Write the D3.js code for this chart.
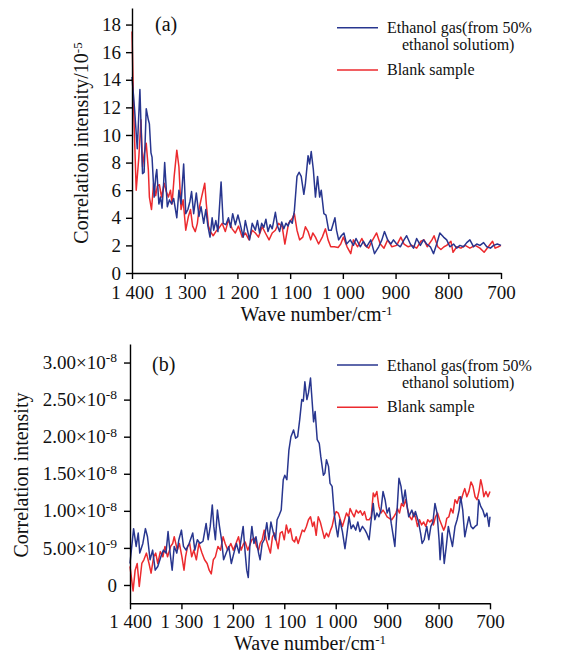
<!DOCTYPE html>
<html>
<head>
<meta charset="utf-8">
<script src="https://cdn.jsdelivr.net/npm/d3@7"></script>
<style>
  body { margin: 0; background: #fff; }
  svg text { font-family: "Liberation Serif", "Times New Roman", serif; fill: #111; }
</style>
</head>
<body>
<svg id="chart" width="570" height="656"></svg>
<script>
// wave number ticks (shared by both panels)
const waveTicks = [1400, 1300, 1200, 1100, 1000, 900, 800, 700];
const waveTickLabels = ['1 400', '1 300', '1 200', '1 100', '1 000', '900', '800', '700'];

// panel (a) y ticks
const aTicks = [0, 2, 4, 6, 8, 10, 12, 14, 16, 18];

// panel (b) y ticks, labels as mantissa + exponent
const bTicks = [0, 5e-9, 1e-8, 1.5e-8, 2e-8, 2.5e-8, 3e-8];
const bTickMant = ['0', '5.00', '1.00', '1.50', '2.00', '2.50', '3.00'];
const bTickExp = ['', '-9', '-8', '-8', '-8', '-8', '-8'];

const legendNames = ['Ethanol gas(from 50%', 'ethanol solutiom)', 'Blank sample'];

// panel (a): [wave number, intensity / 1e-5]
const ethA = [[1400,14.2],[1395,11.8],[1390,9.0],[1385,13.3],[1380,7.2],[1377,7.3],[1373,11.9],[1369,11.1],[1367,10.8],[1364,8.7],[1362,8.4],[1358,5.5],[1355,7.0],[1353,7.5],[1349,5.0],[1346,5.5],[1343,4.7],[1340,6.5],[1338,8.0],[1333,4.8],[1329,5.3],[1325,5.0],[1321,5.4],[1315,4.0],[1311,6.0],[1307,5.0],[1302,7.9],[1298,4.3],[1294,4.6],[1290,5.2],[1287,5.9],[1283,4.3],[1278,5.8],[1273,4.1],[1269,4.8],[1264,3.6],[1260,4.6],[1256,3.4],[1252,2.6],[1248,4.0],[1245,3.1],[1241,3.8],[1237,3.0],[1231,6.6],[1227,3.6],[1222,3.5],[1217,4.0],[1213,3.3],[1209,4.3],[1204,3.5],[1199,4.2],[1195,3.6],[1189,2.6],[1185,3.8],[1181,3.1],[1177,2.4],[1172,3.6],[1166,3.1],[1162,3.8],[1158,2.9],[1154,3.6],[1150,3.3],[1146,3.9],[1142,3.0],[1138,3.5],[1134,3.2],[1128,4.4],[1124,3.4],[1120,3.0],[1116,3.7],[1112,3.2],[1108,3.6],[1104,3.4],[1100,3.8],[1096,3.6],[1092,4.5],[1089,6.0],[1087,7.0],[1083,7.3],[1079,7.0],[1074,5.7],[1071,6.5],[1066,8.5],[1063,7.9],[1060,8.8],[1056,7.5],[1052,5.5],[1048,7.0],[1044,5.5],[1041,6.0],[1036,4.3],[1032,4.2],[1027,3.1],[1022,3.1],[1015,4.0],[1012,3.1],[1008,2.4],[1003,2.7],[998,2.9],[993,2.1],[986,2.4],[980,2.0],[975,2.5],[967,1.9],[961,2.3],[955,1.9],[947,2.4],[940,1.4],[932,1.9],[926,2.4],[921,3.0],[915,2.4],[909,2.1],[904,2.4],[898,2.1],[891,1.9],[884,2.4],[879,2.7],[872,2.1],[866,1.8],[860,2.5],[853,2.0],[847,2.4],[841,2.1],[834,1.9],[828,1.4],[822,2.1],[816,2.9],[809,2.6],[803,2.4],[797,1.9],[790,2.1],[784,1.8],[778,2.0],[771,1.9],[765,2.2],[759,2.4],[752,1.9],[746,2.1],[740,2.0],[733,2.2],[727,1.9],[720,1.8],[714,2.0],[707,2.1],[700,2.0]];

const blankA = [[1400,17.5],[1397,12.0],[1392,6.0],[1387,8.4],[1383,11.1],[1380,7.7],[1377,8.6],[1373,9.4],[1369,7.5],[1367,5.5],[1363,4.6],[1359,6.5],[1355,5.6],[1352,6.3],[1348,6.4],[1344,5.5],[1339,6.5],[1335,5.9],[1331,5.5],[1327,6.0],[1324,5.0],[1320,7.0],[1315,8.9],[1311,7.7],[1307,4.6],[1303,5.3],[1298,3.1],[1293,4.1],[1289,4.6],[1285,3.4],[1280,3.0],[1276,3.6],[1273,4.6],[1268,5.5],[1262,6.5],[1259,5.0],[1255,3.4],[1251,3.0],[1246,2.7],[1241,3.0],[1236,3.2],[1229,3.6],[1223,3.0],[1217,3.85],[1210,3.2],[1204,2.9],[1198,3.4],[1191,2.6],[1185,2.9],[1178,2.4],[1172,3.1],[1166,2.9],[1160,2.6],[1153,3.35],[1147,2.9],[1140,2.4],[1134,2.9],[1128,3.1],[1122,3.6],[1115,3.35],[1110,2.1],[1103,3.6],[1096,3.95],[1092,4.3],[1087,3.1],[1082,2.4],[1076,2.6],[1071,3.35],[1066,3.0],[1061,2.4],[1057,2.9],[1052,2.6],[1046,2.1],[1039,2.6],[1033,3.2],[1028,2.4],[1023,1.9],[1016,1.9],[1009,1.85],[1004,2.1],[999,2.6],[992,1.9],[985,1.4],[980,2.4],[972,1.9],[964,2.5],[958,2.0],[951,1.8],[945,2.3],[936,2.9],[929,2.1],[922,1.8],[915,2.4],[907,1.9],[898,2.0],[890,2.6],[884,2.1],[876,1.9],[869,2.0],[860,1.8],[852,2.3],[846,2.4],[840,1.9],[831,2.4],[827,2.7],[820,1.9],[814,1.7],[808,1.9],[803,2.0],[795,2.3],[791,1.5],[784,1.9],[776,1.8],[768,2.0],[759,1.8],[749,2.0],[740,1.8],[732,1.5],[724,1.9],[716,2.3],[711,1.8],[705,1.9],[700,2.0]];

// panel (b): [wave number, intensity / 1e-9]
const ethB = [[1400,2.9],[1393,7.6],[1388,5.2],[1384,7.0],[1381,4.3],[1375,5.6],[1370,7.6],[1366,6.5],[1361,3.4],[1356,4.7],[1351,2.0],[1346,2.5],[1340,3.8],[1335,4.7],[1330,4.3],[1326,7.2],[1322,4.3],[1318,2.0],[1314,5.2],[1309,4.3],[1305,6.1],[1300,7.4],[1296,5.2],[1291,4.7],[1285,5.6],[1278,7.0],[1274,4.7],[1269,6.1],[1264,5.6],[1258,5.9],[1252,8.3],[1248,6.1],[1244,7.9],[1240,10.8],[1237,7.9],[1234,6.1],[1230,10.1],[1226,7.9],[1222,6.1],[1218,3.4],[1213,4.3],[1208,5.2],[1203,2.9],[1198,4.3],[1193,5.6],[1188,4.3],[1180,7.9],[1176,4.3],[1173,2.0],[1170,1.0],[1167,5.2],[1163,7.9],[1159,5.6],[1155,6.5],[1150,4.3],[1147,3.4],[1143,5.6],[1139,6.1],[1134,8.4],[1130,6.1],[1126,8.5],[1121,7.0],[1117,6.1],[1114,8.8],[1110,9.4],[1106,10.1],[1102,14.2],[1099,14.8],[1095,14.2],[1091,18.2],[1087,20.0],[1082,20.9],[1078,19.8],[1074,20.0],[1070,22.3],[1066,25.0],[1063,24.8],[1060,27.4],[1056,25.0],[1053,25.9],[1049,27.9],[1047,25.9],[1043,22.0],[1040,23.4],[1036,19.6],[1032,19.1],[1029,17.3],[1024,14.8],[1021,15.1],[1018,16.9],[1014,16.0],[1011,13.7],[1007,13.3],[1003,9.7],[1000,8.1],[996,6.5],[992,8.8],[987,7.2],[982,4.9],[978,7.0],[974,9.2],[970,7.6],[966,8.1],[961,7.4],[957,8.5],[953,7.2],[948,7.9],[943,7.4],[940,7.0],[935,6.1],[931,8.8],[927,11.0],[924,8.8],[920,9.7],[916,9.2],[912,10.1],[908,12.6],[904,11.5],[900,9.7],[896,10.4],[892,8.3],[889,7.0],[885,5.2],[881,9.7],[877,14.4],[873,13.3],[869,11.0],[865,12.8],[861,10.6],[858,9.2],[852,10.1],[848,9.2],[845,9.9],[839,8.5],[835,7.0],[832,5.6],[828,6.1],[823,7.9],[819,6.1],[815,7.9],[811,8.5],[807,11.0],[803,9.7],[799,6.1],[797,3.4],[793,7.0],[789,2.9],[785,5.2],[781,7.9],[777,6.5],[773,5.2],[768,7.9],[764,8.8],[760,10.1],[757,11.9],[753,10.1],[749,6.5],[745,7.9],[741,9.2],[737,7.9],[733,7.6],[729,7.9],[725,8.1],[722,11.5],[718,10.6],[714,10.1],[710,9.2],[706,9.7],[702,7.9],[700,9.2]];

const blankB = [[1400,2.5],[1394,-0.8],[1390,2.0],[1386,2.9],[1382,-0.2],[1377,2.9],[1373,3.4],[1368,4.3],[1363,2.9],[1359,1.6],[1354,3.8],[1350,4.3],[1346,2.9],[1341,4.5],[1336,3.8],[1332,5.2],[1327,3.8],[1321,5.2],[1317,5.6],[1314,6.5],[1308,4.7],[1304,5.6],[1299,3.8],[1295,2.0],[1292,3.8],[1288,5.2],[1284,5.6],[1280,3.8],[1276,4.7],[1271,3.4],[1266,5.6],[1260,4.3],[1255,3.4],[1250,2.9],[1246,2.0],[1242,1.5],[1238,3.4],[1234,3.8],[1229,5.2],[1224,4.7],[1219,6.5],[1215,5.6],[1210,4.7],[1204,5.6],[1199,4.7],[1194,5.6],[1189,6.5],[1184,4.7],[1179,5.6],[1176,5.8],[1171,4.7],[1167,5.4],[1163,6.1],[1158,6.3],[1154,5.2],[1150,4.7],[1147,5.6],[1143,6.1],[1139,7.4],[1135,6.1],[1131,5.2],[1127,4.3],[1123,6.5],[1119,7.0],[1115,5.8],[1112,4.9],[1108,7.0],[1104,7.2],[1100,6.1],[1096,8.1],[1092,7.0],[1088,7.6],[1084,6.1],[1080,5.8],[1077,6.5],[1073,5.6],[1069,6.5],[1065,7.4],[1061,7.2],[1057,7.9],[1053,8.8],[1049,9.2],[1045,7.9],[1042,8.5],[1038,6.7],[1034,9.2],[1030,8.5],[1026,7.4],[1022,6.3],[1018,7.0],[1014,6.5],[1010,7.4],[1007,7.9],[1003,9.2],[999,9.9],[995,9.7],[991,8.8],[987,7.9],[983,8.8],[979,9.7],[975,9.2],[972,10.3],[968,9.7],[964,9.2],[960,10.1],[956,9.7],[952,10.0],[948,9.4],[944,9.9],[940,8.8],[935,8.8],[931,9.2],[927,12.4],[924,11.9],[920,12.6],[916,10.6],[912,9.7],[908,10.1],[904,9.7],[900,9.2],[896,9.0],[891,8.8],[887,9.2],[883,9.7],[880,10.3],[876,9.7],[872,11.0],[868,10.6],[864,11.5],[860,10.1],[856,9.2],[852,8.8],[848,9.7],[845,9.2],[841,7.9],[837,8.8],[833,8.1],[829,8.5],[825,7.9],[821,8.8],[817,8.5],[813,8.8],[810,8.1],[806,9.2],[802,9.7],[798,8.8],[794,8.1],[790,7.4],[787,7.9],[784,9.0],[780,9.2],[776,10.3],[772,9.7],[768,11.5],[764,11.0],[760,11.9],[756,11.5],[752,12.4],[749,13.0],[745,11.9],[741,12.6],[737,13.9],[733,13.3],[729,11.9],[725,11.5],[721,12.8],[718,14.2],[715,13.3],[712,11.9],[708,12.6],[704,11.9],[700,12.6]];

const blue = '#28368f';
const red = '#ec2a2e';

const svg = d3.select('#chart');

function drawPanel(p) {
  const x = d3.scaleLinear().domain([1400, 700]).range([p.left, p.right]);
  const y = d3.scaleLinear().domain(p.yDomain).range([p.bottom, p.top]);
  const g = svg.append('g');

  //lines
  const line = d3.line()
    .x(d => x(d[0]))
    .y(d => y(d[1] * p.unit));

  g.append('path').datum(p.blank)
    .attr('fill', 'none').attr('stroke', red)
    .attr('stroke-width', 1.5).attr('stroke-linejoin', 'round')
    .attr('d', line);
  g.append('path').datum(p.eth)
    .attr('fill', 'none').attr('stroke', blue)
    .attr('stroke-width', 1.5).attr('stroke-linejoin', 'round')
    .attr('d', line);

  //axes
  const xAxis = g.append('g')
    .attr('transform', `translate(0,${p.bottom})`)
    .call(d3.axisBottom(x).tickValues(waveTicks)
      .tickFormat((d, i) => waveTickLabels[i])
      .tickSize(6).tickSizeOuter(0).tickPadding(p.xPad));

  const yAxis = g.append('g')
    .attr('transform', `translate(${p.left},0)`)
    .call(d3.axisLeft(y).tickValues(p.yTicks)
      .tickFormat(p.yFormat)
      .tickSize(6).tickSizeOuter(0).tickPadding(p.yPad));

  [xAxis, yAxis].forEach(a => {
    a.select('.domain').attr('stroke', '#000').attr('stroke-width', 1.4);
    a.selectAll('.tick line').attr('stroke', '#000').attr('stroke-width', 1.4);
    a.selectAll('.tick text')
      .attr('font-family', '"Liberation Serif", "Times New Roman", serif')
      .attr('font-size', 19).attr('fill', '#111');
  });

  if (p.yExp) {
    yAxis.selectAll('.tick text').each(function (d, i) {
      const t = d3.select(this);
      if (!p.yExp[i]) return;
      t.text(bTickMant[i] + '\u00d710');
      t.append('tspan').attr('dy', '-0.5em').attr('font-size', 13.5).text(p.yExp[i]);
    });
  }

  //axis titles
  const xt = g.append('text')
    .attr('x', (p.left + p.right) / 2).attr('y', p.xTitleY)
    .attr('text-anchor', 'middle').attr('font-size', 20)
    .text('Wave number/cm');
  xt.append('tspan').attr('dy', '-0.5em').attr('font-size', 13).text('-1');

  const yt = g.append('text')
    .attr('transform', `translate(${p.yTitleX},${p.yTitleY}) rotate(-90)`)
    .attr('text-anchor', 'middle').attr('font-size', 20)
    .text(p.yTitle);
  if (p.yTitleExp) {
    yt.append('tspan').attr('dy', '-0.5em').attr('font-size', 13).text(p.yTitleExp);
  }

  //panel tag
  g.append('text').attr('x', p.tagX).attr('y', p.tagY)
    .attr('font-size', 20).text(p.tag);

  //legend
  const lg = g.append('g');
  lg.append('line').attr('x1', 337).attr('x2', 378)
    .attr('y1', p.legY[0]).attr('y2', p.legY[0])
    .attr('stroke', blue).attr('stroke-width', 1.5);
  lg.append('line').attr('x1', 337).attr('x2', 378)
    .attr('y1', p.legY[2]).attr('y2', p.legY[2])
    .attr('stroke', red).attr('stroke-width', 1.5);
  lg.selectAll('text').data(legendNames).enter().append('text')
    .attr('x', (d, i) => i === 1 ? 402 : 387)
    .attr('y', (d, i) => p.legY[i] + p.legDy[i])
    .attr('font-size', 16)
    .text(d => d);
}

drawPanel({
  left: 132, right: 501, top: 8, bottom: 273,
  yDomain: [0, 19.2], unit: 1,
  yTicks: aTicks, yFormat: d => d,
  eth: ethA, blank: blankA,
  xPad: 6.5, yPad: 5, xTitleY: 321,
  yTitle: 'Correlation intensity/10', yTitleExp: '-5',
  yTitleX: 88, yTitleY: 143,
  tag: '(a)', tagX: 155, tagY: 31,
  legY: [27.7, 45, 70], legDy: [5.5, 5, 4.5]
});

drawPanel({
  left: 130, right: 490, top: 344, bottom: 603.3,
  yDomain: [-2.47e-9, 3.25e-8], unit: 1e-9,
  yTicks: bTicks, yFormat: (d, i) => bTickMant[i], yExp: bTickExp,
  eth: ethB, blank: blankB,
  xPad: 5, yPad: 7, xTitleY: 650,
  yTitle: 'Correlation intensity', yTitleExp: null,
  yTitleX: 28, yTitleY: 475,
  tag: '(b)', tagX: 152, tagY: 371,
  legY: [365, 383, 407.3], legDy: [5.5, 5, 4.7]
});
</script>
</body>
</html>
